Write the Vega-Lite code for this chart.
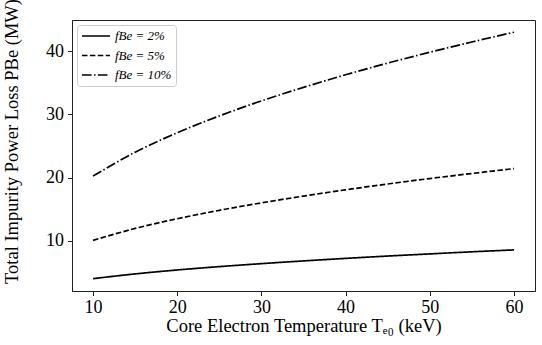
{
  "$schema": "https://vega.github.io/schema/vega-lite/v6.json",
  "width": 463,
  "height": 271,
  "autosize": "none",
  "padding": {"left": 72, "top": 20, "right": 7, "bottom": 54},
  "background": "white",
  "config": {
    "font": "Liberation Serif",
    "view": {"stroke": "#222222", "strokeWidth": 1},
    "axis": {
      "grid": false,
      "domainColor": "#222222",
      "tickColor": "#222222",
      "tickSize": 4.5,
      "labelColor": "black",
      "titleColor": "black",
      "labelFont": "Liberation Serif",
      "titleFont": "Liberation Serif",
      "labelFontSize": 18,
      "titleFontSize": 18.5,
      "titleFontWeight": "normal"
    }
  },
  "data": {
    "values": [
      {"T": 10, "P": 4.05, "series": "fBe = 2%"},
      {"T": 15, "P": 4.80, "series": "fBe = 2%"},
      {"T": 20, "P": 5.42, "series": "fBe = 2%"},
      {"T": 25, "P": 5.95, "series": "fBe = 2%"},
      {"T": 30, "P": 6.42, "series": "fBe = 2%"},
      {"T": 35, "P": 6.85, "series": "fBe = 2%"},
      {"T": 40, "P": 7.25, "series": "fBe = 2%"},
      {"T": 45, "P": 7.62, "series": "fBe = 2%"},
      {"T": 50, "P": 7.96, "series": "fBe = 2%"},
      {"T": 55, "P": 8.29, "series": "fBe = 2%"},
      {"T": 60, "P": 8.59, "series": "fBe = 2%"},
      {"T": 10, "P": 10.10, "series": "fBe = 5%"},
      {"T": 15, "P": 11.98, "series": "fBe = 5%"},
      {"T": 20, "P": 13.51, "series": "fBe = 5%"},
      {"T": 25, "P": 14.84, "series": "fBe = 5%"},
      {"T": 30, "P": 16.02, "series": "fBe = 5%"},
      {"T": 35, "P": 17.09, "series": "fBe = 5%"},
      {"T": 40, "P": 18.08, "series": "fBe = 5%"},
      {"T": 45, "P": 19.00, "series": "fBe = 5%"},
      {"T": 50, "P": 19.86, "series": "fBe = 5%"},
      {"T": 55, "P": 20.66, "series": "fBe = 5%"},
      {"T": 60, "P": 21.43, "series": "fBe = 5%"},
      {"T": 10, "P": 20.25, "series": "fBe = 10%"},
      {"T": 15, "P": 24.02, "series": "fBe = 10%"},
      {"T": 20, "P": 27.09, "series": "fBe = 10%"},
      {"T": 25, "P": 29.75, "series": "fBe = 10%"},
      {"T": 30, "P": 32.12, "series": "fBe = 10%"},
      {"T": 35, "P": 34.26, "series": "fBe = 10%"},
      {"T": 40, "P": 36.25, "series": "fBe = 10%"},
      {"T": 45, "P": 38.09, "series": "fBe = 10%"},
      {"T": 50, "P": 39.81, "series": "fBe = 10%"},
      {"T": 55, "P": 41.43, "series": "fBe = 10%"},
      {"T": 60, "P": 42.97, "series": "fBe = 10%"}
    ]
  },
  "mark": {"type": "line", "color": "black", "strokeWidth": 1.7, "interpolate": "monotone"},
  "encoding": {
    "x": {
      "field": "T",
      "type": "quantitative",
      "scale": {"domain": [7.5, 62.5], "nice": false, "zero": false},
      "axis": {
        "values": [10, 20, 30, 40, 50, 60],
        "title": "Core Electron Temperature Tₑ₀ (keV)",
        "labelPadding": 3,
        "titlePadding": 0
      }
    },
    "y": {
      "field": "P",
      "type": "quantitative",
      "scale": {"domain": [2.1, 44.9], "nice": false, "zero": false},
      "axis": {
        "values": [10, 20, 30, 40],
        "title": "Total Impurity Power Loss PBe (MW)",
        "labelPadding": 4,
        "titlePadding": 24,
        "titleY": 121
      }
    },
    "strokeDash": {
      "field": "series",
      "type": "nominal",
      "sort": ["fBe = 2%", "fBe = 5%", "fBe = 10%"],
      "scale": {
        "domain": ["fBe = 2%", "fBe = 5%", "fBe = 10%"],
        "range": [[1, 0], [5.5, 2.4], [9.6, 2.4, 1.5, 2.4]]
      },
      "legend": {
        "title": null,
        "orient": "top-left",
        "offset": 5,
        "padding": 4,
        "strokeColor": "#cccccc",
        "fillColor": "white",
        "cornerRadius": 3,
        "symbolType": "M-1,0H3.67",
        "symbolSize": 144,
        "symbolStrokeWidth": 1.7,
        "symbolStrokeColor": "black",
        "labelFont": "Liberation Serif",
        "labelFontSize": 13,
        "labelFontStyle": "italic",
        "labelColor": "black",
        "rowPadding": 5.5,
        "labelOffset": 20
      }
    }
  }
}
